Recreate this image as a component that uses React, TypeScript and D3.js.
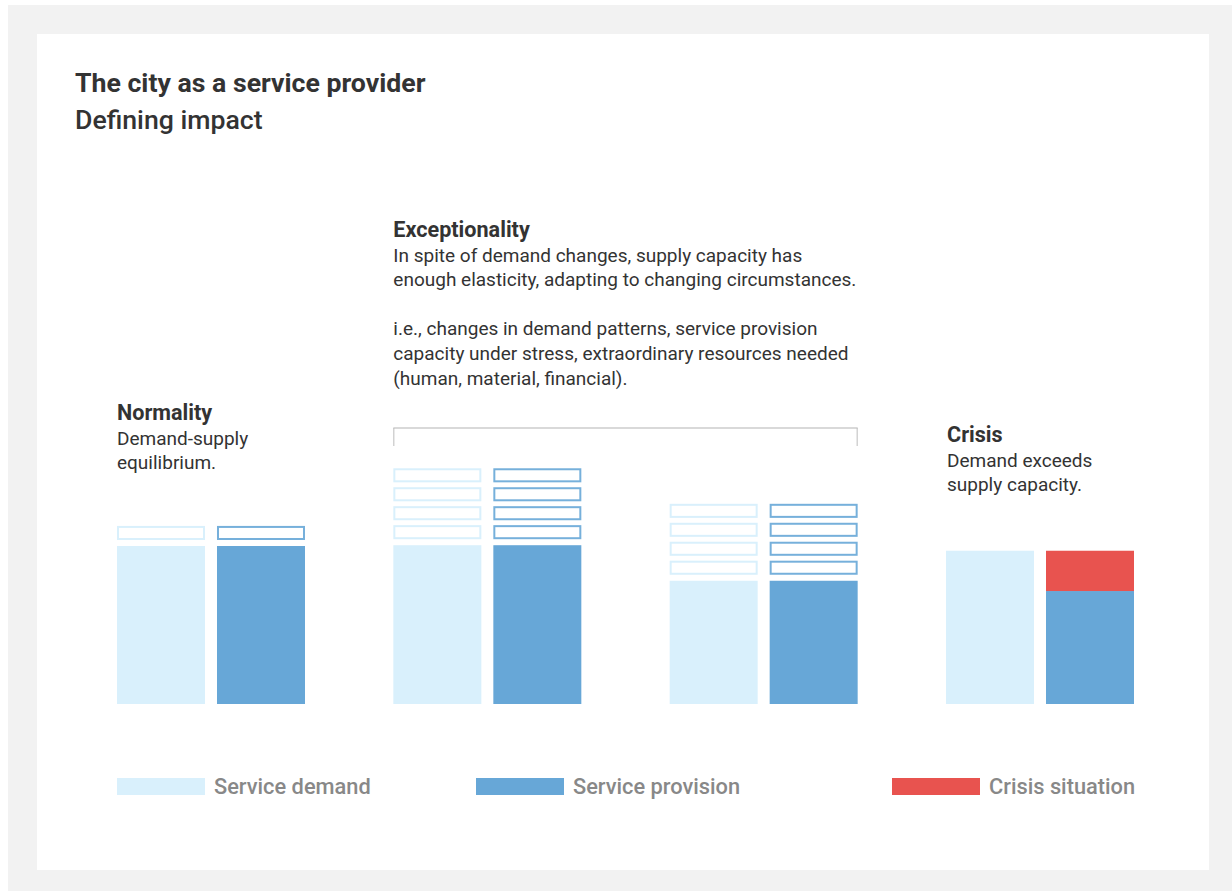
import React from "react";
import * as d3 from "d3";

// ---------- data ----------
const categories = ["Normality", "Exceptionality A", "Exceptionality B", "Crisis"];
const demandValues = [100, 100.5, 78, 97];
const provisionValues = [100, 100.5, 78, 71.5];
const crisisValues = [0, 0, 0, 25.5];
const reserveBoxes = [1, 4, 4, 0];
const seriesKeys = ["demand", "provision"];

const legendLabels = ["Service demand", "Service provision", "Crisis situation"];

const titleText = "The city as a service provider";
const subtitleText = "Defining impact";

const normalityHeading = "Normality";
const normalityLines = ["Demand-supply", "equilibrium."];
const exceptionHeading = "Exceptionality";
const exceptionLines = [
  "In spite of demand changes, supply capacity has",
  "enough elasticity, adapting to changing circumstances.",
  "",
  "i.e., changes in demand patterns, service provision",
  "capacity under stress, extraordinary resources needed",
  "(human, material, financial).",
];
const crisisHeading = "Crisis";
const crisisLines = ["Demand exceeds", "supply capacity."];

// ---------- style ----------
const COLORS = {
  demand: "#d9f0fc",
  provision: "#67a7d7",
  crisis: "#e8534f",
  text: "#333333",
  legendText: "#888888",
  bracket: "#d9d9d9",
  bracketTick: "#bdbdbd",
  outer: "#f2f2f2",
  card: "#ffffff",
};
const FONT = "Roboto, 'Noto Sans', Arial, sans-serif";

const W = 1232;
const H = 893;

export default function App() {
  const x = d3
    .scaleBand<string>()
    .domain(categories)
    .range([117, 1134])
    .paddingInner(0.3197);
  const xi = d3
    .scaleBand<string>()
    .domain(seriesKeys)
    .range([0, x.bandwidth()])
    .paddingInner(0.12);
  const y = d3.scaleLinear().domain([0, 100]).range([704, 546]);

  const bw = xi.bandwidth();
  const boxGap = 3.8;
  const boxH = 8.9;
  const boxPitch = 12;

  const bars: React.ReactNode[] = [];
  categories.forEach((c, i) => {
    const gx = x(c)!;
    const dx = gx + xi("demand")!;
    const px = gx + xi("provision")!;
    bars.push(
      <rect key={`d${i}`} x={dx} y={y(demandValues[i])} width={bw} height={y(0) - y(demandValues[i])} fill={COLORS.demand} />
    );
    bars.push(
      <rect key={`p${i}`} x={px} y={y(provisionValues[i])} width={bw} height={y(0) - y(provisionValues[i])} fill={COLORS.provision} />
    );
    if (crisisValues[i] > 0) {
      const top = provisionValues[i] + crisisValues[i];
      bars.push(
        <rect key={`c${i}`} x={px} y={y(top)} width={bw} height={y(provisionValues[i]) - y(top)} fill={COLORS.crisis} />
      );
    }
    for (let b = 0; b < reserveBoxes[i]; b++) {
      const lo = demandValues[i] + boxGap + b * boxPitch;
      const hi = lo + boxH;
      bars.push(
        <rect key={`bd${i}-${b}`} x={dx + 1} y={y(hi) + 1} width={bw - 2} height={y(lo) - y(hi) - 2} fill="none" stroke={COLORS.demand} strokeWidth={2} />
      );
      const lo2 = provisionValues[i] + boxGap + b * boxPitch;
      const hi2 = lo2 + boxH;
      bars.push(
        <rect key={`bp${i}-${b}`} x={px + 1} y={y(hi2) + 1} width={bw - 2} height={y(lo2) - y(hi2) - 2} fill="none" stroke={COLORS.provision} strokeWidth={2} strokeOpacity={0.9} />
      );
    }
  });

  const bodySize = 19;
  const headSize = 21.6;
  const lineH = 24.6;

  const block = (heading: string, lines: string[], bx: number, by: number, key: string) => (
    <g key={key}>
      <text x={bx} y={by} fontWeight={700} fontSize={headSize} fill={COLORS.text}>{heading}</text>
      {lines.map((l, k) =>
        l ? (
          <text key={k} x={bx} y={by + lineH * (k + 1)} fontSize={bodySize} fill={COLORS.text}>{l}</text>
        ) : null
      )}
    </g>
  );

  const exL = x(categories[1])!;
  const exR = x(categories[2])! + x.bandwidth();
  const brY = 428;

  const legendX = [117, 476, 892];
  const legendColors = [COLORS.demand, COLORS.provision, COLORS.crisis];

  return (
    <div style={{ position: "absolute", left: 0, top: 0 }}>
      <svg width={W} height={H} style={{ display: "block", fontFamily: FONT }}>
        <rect x={8} y={5} width={W - 8} height={886} fill={COLORS.outer} />
        <rect x={37} y={34} width={1172} height={836} fill={COLORS.card} />

        <text x={75} y={92} fontSize={26.67} fontWeight={700} fill={COLORS.text}>{titleText}</text>
        <text x={75} y={129} fontSize={26.67} fontWeight={500} fill={COLORS.text}>{subtitleText}</text>

        {block(normalityHeading, normalityLines, x(categories[0])!, 420, "n")}
        {block(exceptionHeading, exceptionLines, exL, 237, "e")}
        {block(crisisHeading, crisisLines, x(categories[3])! + 1, 442, "c")}

        <line x1={exL} x2={exR} y1={brY} y2={brY} stroke={COLORS.bracket} strokeWidth={2} />
        <line x1={exL + 0.5} x2={exL + 0.5} y1={brY} y2={brY + 18} stroke={COLORS.bracketTick} strokeWidth={1} />
        <line x1={exR - 0.5} x2={exR - 0.5} y1={brY} y2={brY + 18} stroke={COLORS.bracketTick} strokeWidth={1} />

        {bars}

        {legendLabels.map((l, i) => (
          <g key={l}>
            <rect x={legendX[i]} y={778} width={bw} height={17} fill={legendColors[i]} />
            <text x={legendX[i] + bw + 9} y={794} fontSize={21.8} fontWeight={500} fill={COLORS.legendText}>{l}</text>
          </g>
        ))}
      </svg>
    </div>
  );
}
